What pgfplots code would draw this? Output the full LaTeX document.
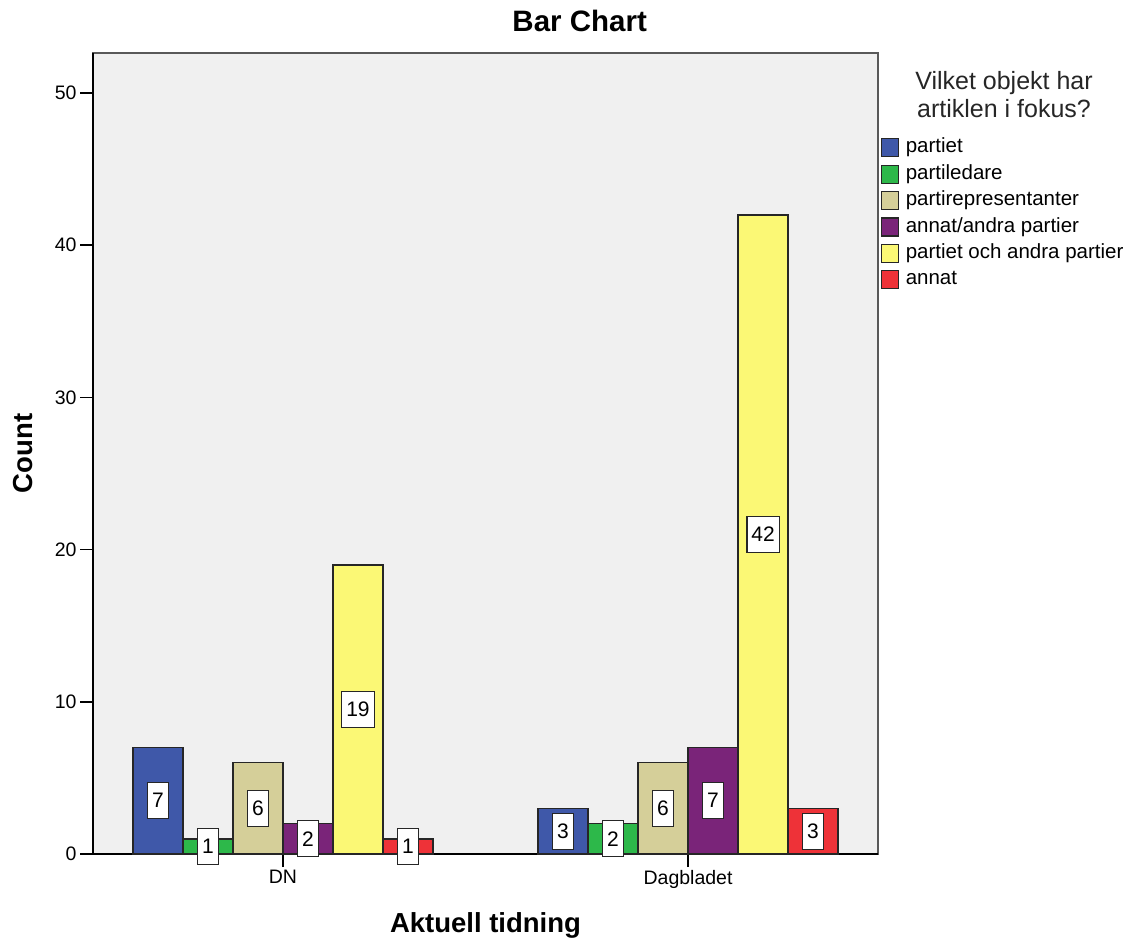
\documentclass[border=0pt]{standalone}
\usepackage{pgfplots}
\pgfplotsset{compat=1.18}
\usepackage{fontspec}
\setmainfont{Liberation Sans}

\definecolor{cblue}{HTML}{3F58A9}
\definecolor{cgreen}{HTML}{2DB84A}
\definecolor{ctan}{HTML}{D5CF99}
\definecolor{cpurple}{HTML}{7A2479}
\definecolor{cyellow}{HTML}{FBF875}
\definecolor{cred}{HTML}{EE3238}
\definecolor{plotbg}{HTML}{F0F0F0}

% one label series: values placed at half the bar height
\pgfplotsset{
  barlabel/.style={only marks, mark=none, forget plot,
    nodes near coords, point meta=explicit symbolic,
    every node near coord/.append style={xshift=#1}},
  bars/.style 2 args={ybar, bar width=50pt, bar shift=#1,
    fill=#2, draw=black!85, line width=1.5pt},
}

\begin{document}
\begin{tikzpicture}
\useasboundingbox (0,0) rectangle (1129pt,942pt);
\begin{axis}[
    at={(93pt,88pt)}, anchor=south west,
    width=785pt, height=801pt, scale only axis,
    xmin=-0.469, xmax=1.469, ymin=0, ymax=52.63,
    axis lines=left,
    axis line style={-, line width=1.5pt, black},
    axis background/.style={fill=plotbg, draw=black!65, line width=2pt},
    clip=false,
    xtick={0,1}, xticklabels={DN,Dagbladet},
    ytick={0,10,20,30,40,50},
    tick align=outside,
    major tick length=13pt,
    tick style={line width=1.5pt, black},
    /pgf/number format/assume math mode=true,
    tick label style={font=\fontsize{19.5}{21}\selectfont},
    xlabel={Aktuell tidning},
    ylabel={Count},
    label style={font=\fontsize{27.5}{30}\selectfont\bfseries},
    xlabel style={at={(axis description cs:0.5,-0.0898)}, anchor=center},
    ylabel style={at={(axis description cs:-0.0892,0.5)}, anchor=center, rotate=0},
    title={Bar Chart},
    title style={font=\fontsize{29.5}{32}\selectfont\bfseries,
      at={(axis description cs:0.620,1.033)}, anchor=center},
    every node near coord/.append style={anchor=center, fill=white,
      draw=black!85, line width=1.3pt, minimum height=36pt, inner xsep=4.5pt,
      text=black, font=\fontsize{21}{23}\selectfont},
    legend style={at={(axis description cs:1.0038,0.8943)}, anchor=north west,
      draw=none, fill=none, inner sep=0pt, row sep=6.4pt,
      font=\fontsize{20.5}{22}\selectfont,
      nodes={text height=15pt, text depth=5pt, inner sep=0pt}},
    legend cell align=left,
    legend image code/.code={\draw[#1, line width=1.2pt] (0pt,-9pt) rectangle (17pt,9pt);
      \path[draw=none, fill=none] (0pt,0pt) -- (24pt,0pt);},
  ]
  \addplot[bars={-125pt}{cblue}]   coordinates {(0,7) (1,3)};
  \addplot[bars={-75pt}{cgreen}]   coordinates {(0,1) (1,2)};
  \addplot[bars={-25pt}{ctan}]     coordinates {(0,6) (1,6)};
  \addplot[bars={25pt}{cpurple}]   coordinates {(0,2) (1,7)};
  \addplot[bars={75pt}{cyellow}]   coordinates {(0,19) (1,42)};
  \addplot[bars={125pt}{cred}]     coordinates {(0,1) (1,3)};
  \legend{partiet, partiledare, partirepresentanter, annat/andra partier,
    partiet och andra partier, annat}

  \addplot[barlabel=-125pt] coordinates {(0,3.5)[7] (1,1.5)[3]};
  \addplot[barlabel=-75pt]  coordinates {(0,0.5)[1] (1,1)[2]};
  \addplot[barlabel=-25pt]  coordinates {(0,3)[6] (1,3)[6]};
  \addplot[barlabel=25pt]   coordinates {(0,1)[2] (1,3.5)[7]};
  \addplot[barlabel=75pt]   coordinates {(0,9.5)[19] (1,21)[42]};
  \addplot[barlabel=125pt]  coordinates {(0,0.5)[1] (1,1.5)[3]};

  \node[align=center, font=\fontsize{25}{28}\selectfont, text=black!85]
    at (axis description cs:1.1605,0.9476) {Vilket objekt har\\artiklen i fokus?};
\end{axis}
\end{tikzpicture}
\end{document}
